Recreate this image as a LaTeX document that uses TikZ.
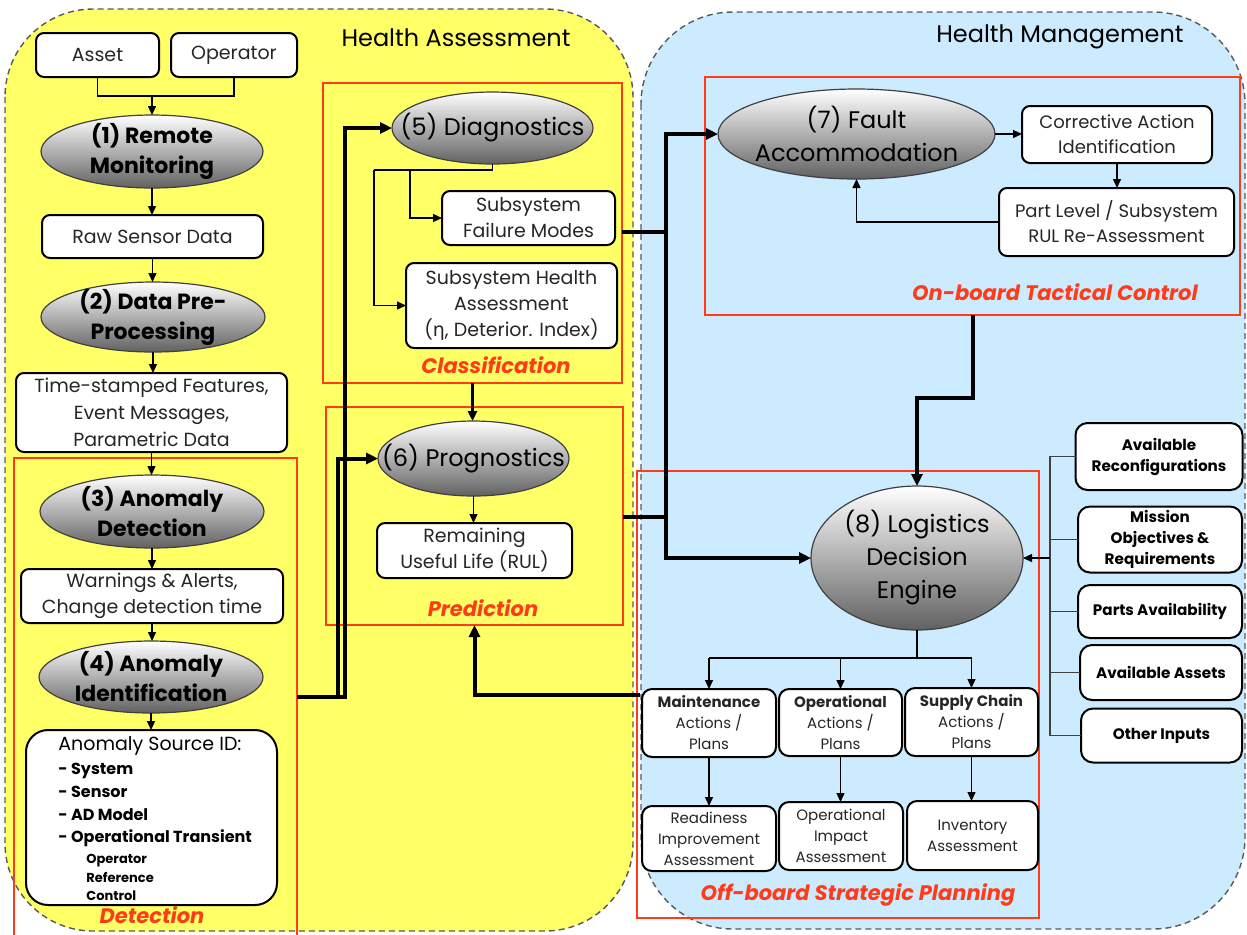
\documentclass[tikz,border=0pt]{standalone}
\usepackage{fontspec}
\setmainfont{Poppins}
\newfontfamily\dejavu{DejaVu Sans}
\usetikzlibrary{shapes.geometric,arrows.meta,calc}
\definecolor{ylw}{HTML}{FFFF66}
\definecolor{sky}{HTML}{CCEBFF}
\definecolor{redc}{HTML}{FF3B1A}
\tikzset{
  region/.style={dash pattern=on 3pt off 2pt, draw=black!65, line width=0.7pt},
  title/.style={font=\fontsize{12}{14}\selectfont, text=black},
  frame/.style={draw=redc, line width=0.6pt, inner sep=0pt, outer sep=0pt},
  sz/.style 2 args={minimum width=#1*0.5pt, minimum height=#2*0.5pt},
  ell/.style={ellipse, draw=black!75, line width=0.6pt, top color=white, bottom color=black!62, inner sep=0pt, outer sep=0pt},
  etb/.style={align=center, inner sep=0pt, font=\fontsize{11}{15}\selectfont\bfseries},
  etr/.style={align=center, inner sep=0pt, font=\fontsize{12}{16.5}\selectfont},
  box/.style={draw=black, line width=1pt, fill=white, rounded corners=4pt, align=center, inner sep=0pt, outer sep=0pt, font=\fontsize{9.5}{13}\selectfont, text=black!85},
  sbox/.style={box, rounded corners=5pt, font=\fontsize{7.5}{10.5}\selectfont},
  ibox/.style={box, rounded corners=6pt, font=\fontsize{7.6}{10.5}\selectfont\bfseries, text=black},
  lbl/.style={text=redc, font=\fontsize{10.5}{12}\selectfont\bfseries\itshape},
  ln/.style={line width=0.65pt, draw=black},
  arr/.style={ln, -{Triangle[length=4.5pt,width=4pt]}},
  thk/.style={line width=2pt, draw=black},
  thka/.style={thk, -{Triangle[length=6pt,width=5.5pt]}},
  meda/.style={line width=1.5pt, draw=black, -{Triangle[length=5pt,width=4.5pt]}},
  inl/.style={line width=0.65pt, draw=black!75},
  srcs/.style={anchor=base west, inner sep=0pt, text=black},
}
\begin{document}
\begin{tikzpicture}[x=0.5pt,y=-0.5pt]
\useasboundingbox (0,0) rectangle (1247,934);
% regions
\fill[ylw, rounded corners=44pt] (5,9) rectangle (633,931);
\draw[region, rounded corners=44pt] (5,9) rectangle (633,931);
\fill[sky, rounded corners=46pt] (641,12) rectangle (1245,929);
\draw[region, rounded corners=46pt] (641,12) rectangle (1245,929);
\node[title] (tHA) at (456,38) {Health Assessment};
\node[title] (tHM) at (1060,37) {Health Management};
% frames
\node[frame, sz={283}{484}] (det) at (155.5,700) {};
\node[frame, sz={299}{300}] (cls) at (472.5,233) {};
\node[frame, sz={297}{218}] (pred) at (474.5,516) {};
\node[frame, sz={535}{238}] (obc) at (972.5,196) {};
\node[frame, sz={402}{447}] (obs) at (838,694.5) {};
\node[lbl] (lDet) at (152,915) {Detection};
\node[lbl] (lCls) at (496,365) {Classification};
\node[lbl] (lPred) at (483,608) {Prediction};
\node[lbl] (lObc) at (1055,292) {On-board Tactical Control};
\node[lbl] (lObs) at (858,895) {Off-board Strategic Planning};
% left column
\node[box, sz={123}{44}] (asset) at (97.5,55) {Asset};
\node[box, sz={126}{44}] (oper) at (234,55) {Operator};
\node[ell, sz={222}{73}] (rm) at (152,151.5) {};
\node[etb] (rmt) at (rm) {(1) Remote\\Monitoring};
\node[box, sz={221}{43}] (raw) at (152.5,236.5) {Raw Sensor Data};
\node[ell, sz={224}{70}] (dpp) at (153,317) {};
\node[etb] (dppt) at (dpp) {(2) Data Pre-\\Processing};
\node[box, sz={271}{79}, font=\fontsize{9.5}{13.5}\selectfont] (tsf) at (151.5,412.5) {Time-stamped Features,\\Event Messages,\\Parametric Data};
\node[ell, sz={224}{73}] (ad) at (152,511.5) {};
\node[etb] (adt) at (ad) {(3) Anomaly\\Detection};
\node[box, sz={262}{54}] (war) at (152,596) {Warnings \& Alerts,\\Change detection time};
\node[ell, sz={224}{72}] (ai) at (151,677) {};
\node[etb] (ait) at (ai) {(4) Anomaly\\Identification};
\node[box, rounded corners=11pt, sz={251}{175}] (src) at (151.5,817.5) {};
\node[srcs, font=\fontsize{9.5}{11}\selectfont] (s1) at (58,750) {Anomaly Source ID:};
\node[srcs, font=\fontsize{8}{10}\selectfont\bfseries] (s2) at (58,774) {- System};
\node[srcs, font=\fontsize{8}{10}\selectfont\bfseries] (s3) at (58,797) {- Sensor};
\node[srcs, font=\fontsize{8}{10}\selectfont\bfseries] (s4) at (58,820) {- AD Model};
\node[srcs, font=\fontsize{8}{10}\selectfont\bfseries] (s5) at (58,842) {- Operational Transient};
\node[srcs, font=\fontsize{6.5}{8}\selectfont\bfseries] (s6) at (86,863) {Operator};
\node[srcs, font=\fontsize{6.5}{8}\selectfont\bfseries] (s7) at (86,882) {Reference};
\node[srcs, font=\fontsize{6.5}{8}\selectfont\bfseries] (s8) at (86,900) {Control};
% middle
\node[ell, sz={201}{72}] (diag) at (492.5,128) {};
\node[etr] (diagt) at (diag) {(5) Diagnostics};
\node[box, sz={173}{54}] (fm) at (528.5,218) {Subsystem\\Failure Modes};
\node[box, sz={211}{85}] (sha) at (511.5,305.5) {Subsystem Health\\Assessment\\({\dejavu η}, Deterior. Index)};
\node[ell, sz={191}{75}] (prog) at (473.5,458.5) {};
\node[etr] (progt) at (prog) {(6) Prognostics};
\node[box, sz={195}{55}] (rul) at (474.5,550.5) {Remaining\\Useful Life (RUL)};
% right
\node[ell, sz={277}{90}] (fa) at (856.5,134) {};
\node[etr] (fat) at (fa) {(7) Fault\\Accommodation};
\node[box, sz={190}{57}, font=\fontsize{9}{12.5}\selectfont] (cai) at (1117,134.5) {Corrective Action\\Identification};
\node[box, sz={235}{68}, font=\fontsize{9}{12.5}\selectfont] (plr) at (1116.5,222) {Part Level / Subsystem\\RUL Re-Assessment};
\node[ell, sz={212}{144}] (lde) at (917,558) {};
\node[etr] (ldet) at (lde) {(8) Logistics\\Decision\\Engine};
\node[sbox, sz={134}{68}] (mnt) at (709,723) {{\bfseries Maintenance}\\Actions /\\Plans};
\node[sbox, sz={123}{67}] (opr) at (840.5,722.5) {{\bfseries Operational}\\Actions /\\Plans};
\node[sbox, sz={133}{68}] (sup) at (971.5,722) {{\bfseries Supply Chain}\\Actions /\\Plans};
\node[sbox, sz={134}{65}] (rdy) at (709,838.5) {Readiness\\Improvement\\Assessment};
\node[sbox, sz={124}{68}] (oia) at (841,836) {Operational\\Impact\\Assessment};
\node[sbox, sz={131}{69}] (inv) at (972.5,835.5) {Inventory\\Assessment};
\node[ibox, sz={167}{67}] (arc) at (1159,456.5) {Available\\Reconfigurations};
\node[ibox, sz={164}{66}] (moj) at (1160,539.5) {Mission\\Objectives \&\\Requirements};
\node[ibox, sz={164}{53}] (pav) at (1160,611.5) {Parts Availability};
\node[ibox, sz={162}{55}] (aas) at (1161,672.5) {Available Assets};
\node[ibox, sz={161}{54}] (oin) at (1161.5,735.5) {Other Inputs};
% coordinates
\coordinate (ao) at (152,96);
\coordinate (dj) at (492.5,170);
\coordinate (dl) at (374,170);
\coordinate (dm) at (410,170);
\coordinate (c4) at (297,697);
\coordinate (v5) at (345,697);
\coordinate (v6) at (338,697);
\coordinate (fmo) at (622,232);
\coordinate (jr) at (666,232);
\coordinate (rulo) at (623,517);
\coordinate (fb) at (640,695);
\coordinate (ldj) at (917,658);
\coordinate (ib) at (1050,558);
% left connectors
\draw[ln] (asset.south) -- (asset.south |- ao) -| (oper.south);
\draw[arr] (ao) -- (rm.north);
\draw[arr] (rm.south) -- (rm.south |- raw.north);
\draw[arr] (raw.south) -- (raw.south |- dpp.north);
\draw[arr] (dpp.south) -- (dpp.south |- tsf.north);
\draw[arr] (tsf.south) -- (tsf.south |- ad.north);
\draw[arr] (ad.south) -- (ad.south |- war.north);
\draw[arr] (war.south) -- (war.south |- ai.north);
\draw[arr] (ai.south) -- (ai.south |- src.north);
% middle connectors
\draw[ln] (diag.south) -- (dj) -- (dl);
\draw[arr] (dl) |- (sha.west);
\draw[arr] (dm) |- (fm.west);
\draw[arr] (prog.south) -- (prog.south |- rul.north);
\draw[meda] (cls.south) -- (cls.south |- prog.north);
\draw[thka] (c4) -- (v5) |- (diag.west);
\draw[thka] (c4) -- (v6) |- (prog.west);
% right connectors
\draw[thka] (fmo) -- (jr) |- (fa.west);
\draw[thka] (jr) |- (lde.west);
\draw[thk] (rulo) -- (rulo -| jr);
\draw[thka] (fb) -| (pred.south);
\draw[thka] (obc.south) -- ++(0,83) -| (lde.north);
\draw[arr] (fa.east) -- (fa.east -| cai.west);
\draw[arr] (cai.south) -- (cai.south |- plr.north);
\draw[arr] (plr.west) -| (fa.south);
\draw[ln] (lde.south) -- (ldj);
\draw[ln] (mnt.north |- ldj) -- (sup.north |- ldj);
\draw[arr] (mnt.north |- ldj) -- (mnt.north);
\draw[arr] (opr.north |- ldj) -- (opr.north);
\draw[arr] (sup.north |- ldj) -- (sup.north);
\draw[arr] (mnt.south) -- (mnt.south |- rdy.north);
\draw[arr] (opr.south) -- (opr.south |- oia.north);
\draw[arr] (sup.south) -- (sup.south |- inv.north);
\draw[inl] (arc.west) -- (arc.west -| ib) -- (oin.west -| ib) -- (oin.west);
\draw[inl] (moj.west) -- (moj.west -| ib);
\draw[inl] (pav.west) -- (pav.west -| ib);
\draw[inl] (aas.west) -- (aas.west -| ib);
\draw[arr] (ib) -- (lde.east);
\end{tikzpicture}
\end{document}
